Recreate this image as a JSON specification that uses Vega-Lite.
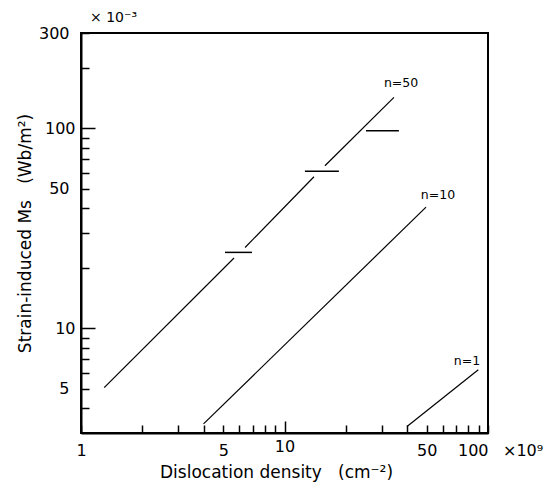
{
  "$schema": "https://vega.github.io/schema/vega-lite/v6.json",
  "autosize": {"type": "none"},
  "padding": {"left": 81, "top": 33, "right": 69, "bottom": 55},
  "width": 407,
  "height": 400,
  "background": "white",
  "config": {
    "view": {"stroke": "black", "strokeWidth": 2},
    "font": "DejaVu Sans",
    "axis": {
      "domainColor": "black", "domainWidth": 2,
      "tickColor": "black", "tickWidth": 1.5,
      "labelColor": "black", "titleColor": "black",
      "labelFont": "DejaVu Sans", "titleFont": "DejaVu Sans",
      "labelFontSize": 16, "titleFontSize": 17, "titleFontWeight": "normal",
      "grid": false
    }
  },
  "datasets": {
    "curves": [
      {"seg": "n50a", "x": 1.3, "y": 5.06},
      {"seg": "n50a", "x": 5.65, "y": 22.5},
      {"seg": "n50b", "x": 6.4, "y": 25.4},
      {"seg": "n50b", "x": 13.96, "y": 57.3},
      {"seg": "n50c", "x": 15.8, "y": 65.1},
      {"seg": "n50c", "x": 34.5, "y": 143},
      {"seg": "n10", "x": 4.0, "y": 3.33},
      {"seg": "n10", "x": 49.6, "y": 40.4},
      {"seg": "n1", "x": 40.0, "y": 3.23},
      {"seg": "n1", "x": 89.6, "y": 6.22}
    ],
    "dashes": [
      {"seg": "d1", "x": 5.1, "y": 24.0},
      {"seg": "d1", "x": 6.92, "y": 24.0},
      {"seg": "d2", "x": 12.6, "y": 61.0},
      {"seg": "d2", "x": 18.5, "y": 61.0},
      {"seg": "d3", "x": 25.15, "y": 97.3},
      {"seg": "d3", "x": 36.5, "y": 97.3}
    ],
    "labels": [
      {"text": "n=50", "x": 37.4, "y": 168},
      {"text": "n=10", "x": 56.8, "y": 46.5},
      {"text": "n=1", "x": 78.8, "y": 6.85}
    ],
    "units": [
      {"text": "× 10⁻³", "x": 1, "y": 300, "pos": "top"},
      {"text": "×10⁹", "x": 100, "y": 3, "pos": "right"}
    ]
  },
  "layer": [
    {
      "data": {"name": "curves"},
      "mark": {"type": "line", "color": "black", "strokeWidth": 1.2, "clip": true},
      "encoding": {
        "x": {
          "field": "x", "type": "quantitative",
          "scale": {"type": "log", "domain": [1, 100], "nice": false},
          "axis": {
            "title": "Dislocation density\u00a0\u00a0\u00a0(cm⁻²)",
            "values": [1,2,3,4,5,6,7,8,9,10,20,30,40,50,60,70,80,90,100],
            "labelExpr": "indexof([1,5,10,50,100], datum.value) >= 0 ? datum.label : ''",
            "labelFlush": false,
            "labelAlign": {"condition": {"test": "datum.value === 100", "value": "right"}, "value": "center"},
            "tickSize": {"condition": {"test": "datum.value === 10", "value": -12}, "value": -8},
            "labelPadding": 17,
            "titlePadding": 6,
            "titleX": 195
          }
        },
        "y": {
          "field": "y", "type": "quantitative",
          "scale": {"type": "log", "domain": [3, 300], "nice": false},
          "axis": {
            "title": "Strain-induced Ms\u00a0\u00a0\u00a0(Wb/m²)",
            "values": [4,5,6,7,8,9,10,20,30,40,50,60,70,80,90,100,200,300],
            "labelExpr": "indexof([5,10,50,100,300], datum.value) >= 0 ? datum.label : ''",
            "tickSize": {"condition": {"test": "datum.value === 10 || datum.value === 100", "value": -14}, "value": -8},
            "labelPadding": 20,
            "titlePadding": 4
          }
        },
        "detail": {"field": "seg"}
      }
    },
    {
      "data": {"name": "dashes"},
      "mark": {"type": "line", "color": "black", "strokeWidth": 1.5},
      "encoding": {
        "x": {"field": "x", "type": "quantitative"},
        "y": {"field": "y", "type": "quantitative"},
        "detail": {"field": "seg"}
      }
    },
    {
      "data": {"name": "labels"},
      "mark": {"type": "text", "fontSize": 12.5, "font": "DejaVu Sans", "color": "black", "align": "center", "baseline": "middle"},
      "encoding": {
        "x": {"field": "x", "type": "quantitative"},
        "y": {"field": "y", "type": "quantitative"},
        "text": {"field": "text"}
      }
    },
    {
      "data": {"name": "units"},
      "transform": [{"filter": "datum.pos === 'top'"}],
      "mark": {"type": "text", "fontSize": 14, "font": "DejaVu Sans", "color": "black", "align": "left", "baseline": "middle", "dx": 9, "dy": -15},
      "encoding": {
        "x": {"field": "x", "type": "quantitative"},
        "y": {"field": "y", "type": "quantitative"},
        "text": {"field": "text"}
      }
    },
    {
      "data": {"name": "units"},
      "transform": [{"filter": "datum.pos === 'right'"}],
      "mark": {"type": "text", "fontSize": 16, "font": "DejaVu Sans", "color": "black", "align": "left", "baseline": "middle", "dx": 15, "dy": 18},
      "encoding": {
        "x": {"field": "x", "type": "quantitative"},
        "y": {"field": "y", "type": "quantitative"},
        "text": {"field": "text"}
      }
    }
  ]
}
